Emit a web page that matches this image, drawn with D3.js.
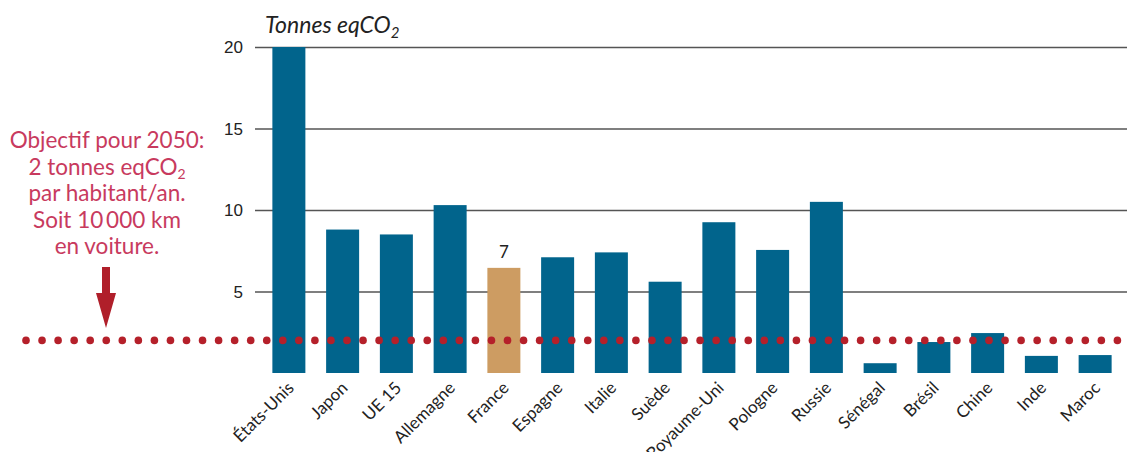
<!DOCTYPE html>
<html>
<head>
<meta charset="utf-8">
<script src="https://cdn.jsdelivr.net/npm/d3@7"></script>
<style>
  body { margin: 0; background: #fff; }
  svg { font-family: Lato, "Open Sans", sans-serif; }
</style>
</head>
<body>
<div id="chartHolder"></div>
<script>
const countries = ["États-Unis", "Japon", "UE 15", "Allemagne", "France", "Espagne", "Italie", "Suède",
  "Royaume-Uni", "Pologne", "Russie", "Sénégal", "Brésil", "Chine", "Inde", "Maroc"];
const emissions = [20, 8.8, 8.5, 10.3, 6.45, 7.1, 7.4, 5.6, 9.25, 7.55, 10.5, 0.6, 1.9, 2.45, 1.05, 1.1];
const yTicks = [5, 10, 15, 20];
const objective = 2;
const noteLines = ["Objectif pour 2050:", "2 tonnes eqCO|2", "par habitant/an.", "Soit 10\u2009000 km", "en voiture."];

const width = 1127;
const height = 452;
const svg = d3.select("#chartHolder")
  .append("svg")
  .attr("width", width)
  .attr("height", height);

const xScale = d3.scaleBand()
  .domain(countries)
  .range([262, 1122])
  .paddingInner(0.386)
  .paddingOuter(0.193);

const yScale = d3.scaleLinear()
  .domain([0, 20])
  .range([373, 47]);

// gridlines + tick labels
const yAxis = d3.axisLeft(yScale)
  .tickValues(yTicks)
  .tickSize(-(width - 255))
  .tickPadding(12);
const gy = svg.append("g")
  .attr("transform", "translate(255,0)")
  .call(yAxis);
gy.select(".domain").remove();
gy.selectAll(".tick line").attr("stroke", "#555").attr("stroke-width", 1.3);
gy.selectAll(".tick text")
  .attr("fill", "#222")
  .style("font-size", "17px")
  .attr("dy", "0.35em");

// title
svg.append("text")
  .attr("x", 265)
  .attr("y", 33)
  .attr("fill", "#222")
  .style("font-size", "23px")
  .style("font-style", "italic")
  .text("Tonnes eqCO")
  .append("tspan")
  .attr("dy", 5)
  .style("font-size", "15px")
  .text("2");

// bars
svg.selectAll(".bar")
  .data(countries)
  .enter()
  .append("rect")
  .attr("class", "bar")
  .attr("x", d => xScale(d))
  .attr("width", xScale.bandwidth())
  .attr("y", (d, i) => yScale(emissions[i]))
  .attr("height", (d, i) => yScale(0) - yScale(emissions[i]))
  .attr("fill", d => d === "France" ? "#cd9c62" : "#01648c");

// France value label
svg.append("text")
  .attr("x", xScale("France") + xScale.bandwidth() / 2)
  .attr("y", yScale(emissions[4]) - 10)
  .attr("text-anchor", "middle")
  .attr("fill", "#222")
  .style("font-size", "17px")
  .text("7");

// x labels
svg.selectAll(".xlab")
  .data(countries)
  .enter()
  .append("text")
  .attr("class", "xlab")
  .attr("transform", d => "translate(" + (xScale(d) + xScale.bandwidth() / 2 + 6) + ",389) rotate(-45)")
  .attr("text-anchor", "end")
  .attr("fill", "#222")
  .style("font-size", "17px")
  .text(d => d);

// objective dotted line
const dots = d3.range(26, 1120, 16.05);
svg.selectAll(".dot")
  .data(dots)
  .enter()
  .append("circle")
  .attr("class", "dot")
  .attr("cx", d => d)
  .attr("cy", yScale(objective))
  .attr("r", 3.8)
  .attr("fill", "#b5202a");

// note
const note = svg.append("text")
  .attr("fill", "#c83a5e")
  .attr("text-anchor", "middle")
  .style("font-size", "22.5px");
noteLines.forEach((line, i) => {
  note.append("tspan")
    .attr("x", 107)
    .attr("y", 148 + i * 26.5)
    .text(line.split("|")[0]);
  const sub = line.split("|")[1];
  if (sub) {
    note.append("tspan")
      .attr("dy", 4)
      .style("font-size", "14px")
      .text(sub);
  }
});

// arrow
svg.append("path")
  .attr("d", "M102,267 L110,267 L110,293 L116,293 L106,328 L96,293 L102,293 Z")
  .attr("fill", "#b01f2a");
</script>
</body>
</html>
